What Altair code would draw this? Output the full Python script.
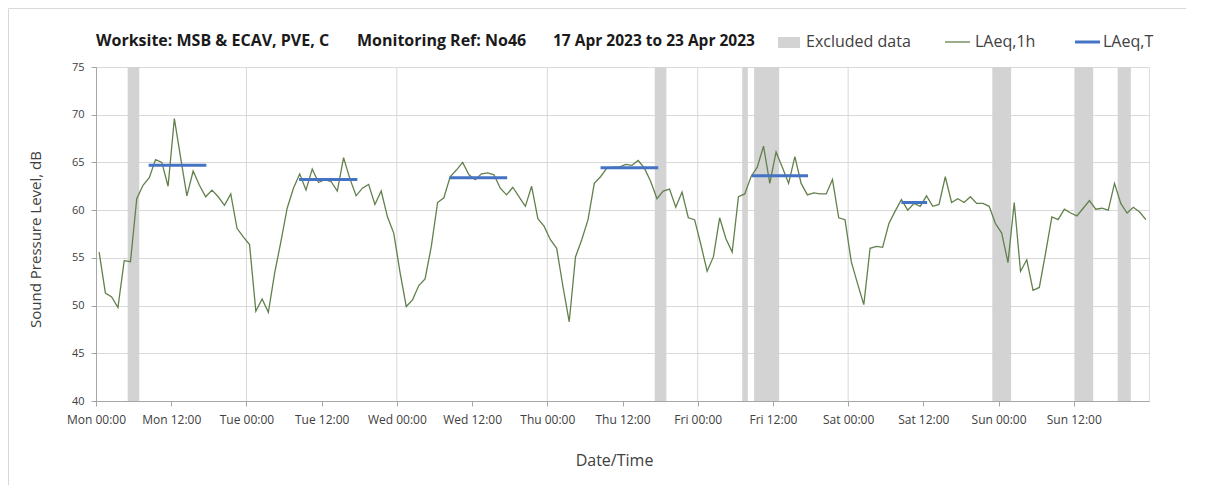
import altair as alt
import pandas as pd

# ---- data ----
laeq_1h = [
    55.6, 51.3, 50.9, 49.8, 54.7, 54.6, 61.2, 62.6, 63.4, 65.3, 65.0, 62.5,
    69.6, 65.5, 61.5, 64.1, 62.6, 61.4, 62.1, 61.4, 60.5, 61.7, 58.1, 57.2,
    56.4, 49.4, 50.7, 49.3, 53.4, 56.7, 60.2, 62.3, 63.8, 62.1, 64.3, 62.9,
    63.2, 63.0, 62.0, 65.5, 63.3, 61.5, 62.3, 62.7, 60.6, 62.0, 59.3, 57.6,
    53.5, 49.9, 50.6, 52.1, 52.8, 56.2, 60.8, 61.3, 63.5, 64.2, 65.0, 63.7,
    63.2, 63.8, 63.9, 63.7, 62.3, 61.6, 62.4, 61.4, 60.4, 62.5, 59.1, 58.3,
    56.9, 56.0, 52.0, 48.3, 55.1, 56.9, 59.0, 62.8, 63.5, 64.4, 64.5, 64.5,
    64.8, 64.7, 65.2, 64.4, 63.0, 61.2, 62.0, 62.2, 60.3, 61.9, 59.2, 59.0,
    56.4, 53.6, 55.1, 59.2, 57.0, 55.6, 61.4, 61.7, 63.5, 64.5, 66.7, 62.8,
    66.1, 64.5, 62.8, 65.6, 62.8, 61.6, 61.8, 61.7, 61.7, 63.2, 59.2, 59.0,
    54.6, 52.3, 50.1, 56.0, 56.2, 56.1, 58.6, 59.9, 61.1, 60.0, 60.7, 60.4,
    61.5, 60.4, 60.6, 63.5, 60.8, 61.2, 60.8, 61.4, 60.7, 60.7, 60.4, 58.6,
    57.6, 54.5, 60.8, 53.6, 54.8, 51.6, 51.9, 55.5, 59.3, 59.0, 60.1, 59.7,
    59.4, 60.2, 61.0, 60.1, 60.2, 60.0, 62.8, 60.7, 59.7, 60.3, 59.8, 59.0,
]
hours = [i + 0.5 for i in range(len(laeq_1h))]

laeq_t_start = [8.4, 32.4, 56.4, 80.5, 104.6, 128.5]
laeq_t_end = [17.6, 41.7, 65.6, 89.7, 113.6, 132.6]
laeq_t_value = [64.7, 63.2, 63.4, 64.45, 63.6, 60.8]

excl_start = [5.05, 89.15, 103.1, 105.0, 143.0, 156.1, 163.0]
excl_end = [6.9, 91.0, 104.0, 109.0, 146.0, 159.1, 165.1]

day_lines = [24, 48, 72, 96, 120, 144]
tick_hours = list(range(0, 157, 12))
day_names = ["Mon", "Tue", "Wed", "Thu", "Fri", "Sat", "Sun", "Mon"]

title_parts = ["Worksite: MSB & ECAV, PVE, C", "Monitoring Ref: No46", "17 Apr 2023 to 23 Apr 2023"]
legend_labels = ["Excluded data", "LAeq,1h", "LAeq,T"]

# ---- styles / layout ----
FONT = "Open Sans"
GREEN = "#62804c"
BLUE = "#4472c4"
GREY_BAND = "#d3d3d3"
TEXT = "#404040"
W, H = 1053, 334

line_df = pd.DataFrame({"h": hours, "v": laeq_1h})
t_df = pd.DataFrame({"h0": laeq_t_start, "h1": laeq_t_end, "v": laeq_t_value})
ex_df = pd.DataFrame({"h0": excl_start, "h1": excl_end})
day_df = pd.DataFrame({"h": day_lines})
one = pd.DataFrame({"k": [0]})

xscale = alt.Scale(domain=[0, 168], nice=False, zero=False)
yscale = alt.Scale(domain=[40, 75], nice=False, zero=False)

day_js = "[" + ",".join("'%s'" % d for d in day_names) + "]"
label_expr = day_js + "[floor(datum.value/24)] + (datum.value % 24 == 0 ? ' 00:00' : ' 12:00')"

x_axis = alt.Axis(
    values=tick_hours, labelExpr=label_expr, grid=False, title="Date/Time",
    labelOverlap=False, labelFlush=False, labelBound=False,
    tickSize=5, tickColor="#a6a6a6", domainColor="#a6a6a6", labelColor=TEXT,
    labelFont=FONT, labelFontSize=12, labelPadding=8, titleFont=FONT,
    titleFontSize=16, titleFontWeight="normal", titleColor=TEXT,
    titleX=518, titleY=59, titleAnchor="start", titleAlign="center", titleBaseline="middle",
)
y_axis = alt.Axis(
    values=list(range(40, 76, 5)), grid=True, gridColor="#d9d9d9", title="Sound Pressure Level, dB",
    labelOverlap=False, labelFlush=False,
    tickSize=5, tickColor="#a6a6a6", domainColor="#a6a6a6", labelColor=TEXT,
    labelFont=FONT, labelFontSize=11, labelPadding=7, titleFont=FONT,
    titleFontSize=15, titleFontWeight="normal", titleColor=TEXT,
    titleX=-61, titleY=172, titleAnchor="start", titleAlign="center", titleBaseline="middle", titleAngle=-90,
)

base_y = alt.Y("v:Q", scale=yscale, axis=y_axis)

# light outer frame (only its top and left edges fall inside the picture)
frame_top = alt.Chart(one).mark_rule(color="#d9d9d9", strokeWidth=1).encode(
    x=alt.value(-87.5), x2=alt.value(1090), y=alt.value(-58.5)
)
frame_left = alt.Chart(one).mark_rule(color="#d9d9d9", strokeWidth=1).encode(
    x=alt.value(-87.5), y=alt.value(-58.5), y2=alt.value(430)
)

day_rules = alt.Chart(day_df).mark_rule(color="#d9d9d9", strokeWidth=1).encode(
    x=alt.X("h:Q", scale=xscale, axis=x_axis)
)

bands = alt.Chart(ex_df).mark_rect(color=GREY_BAND).encode(
    x=alt.X("h0:Q", scale=xscale), x2="h1:Q",
    y=alt.value(0), y2=alt.value(H),
)

line = alt.Chart(line_df).mark_line(color=GREEN, strokeWidth=1.3).encode(
    x=alt.X("h:Q", scale=xscale), y=base_y
)

t_rules = alt.Chart(t_df).mark_rule(color=BLUE, strokeWidth=3).encode(
    x=alt.X("h0:Q", scale=xscale), x2="h1:Q", y=alt.Y("v:Q", scale=yscale)
)

def txt(s, x, y, size=16, weight="normal", align="left"):
    return alt.Chart(one).mark_text(
        text=s, font=FONT, fontSize=size, fontWeight=weight, color="#1a1a1a" if weight == "bold" else TEXT,
        align=align, baseline="middle",
    ).encode(x=alt.value(x), y=alt.value(y))

title_marks = [
    txt(title_parts[0], 0, -26, 16, "bold"),
    txt(title_parts[1], 261, -26, 16, "bold"),
    txt(title_parts[2], 457, -26, 15.5, "bold"),
]

legend_marks = [
    alt.Chart(one).mark_rect(color=GREY_BAND).encode(
        x=alt.value(682), x2=alt.value(704), y=alt.value(-30), y2=alt.value(-19)),
    txt(legend_labels[0], 710, -25),
    alt.Chart(one).mark_rule(color=GREEN, strokeWidth=1.3).encode(
        x=alt.value(849), x2=alt.value(874), y=alt.value(-25)),
    txt(legend_labels[1], 879, -25),
    alt.Chart(one).mark_rule(color=BLUE, strokeWidth=3).encode(
        x=alt.value(979), x2=alt.value(1004), y=alt.value(-25)),
    txt(legend_labels[2], 1007, -25),
]

chart = alt.layer(day_rules, bands, line, t_rules, frame_top, frame_left, *title_marks, *legend_marks).properties(
    width=W, height=H,
    autosize=alt.AutoSizeParams(type="none"),
    padding={"left": 88, "top": 59, "right": 51, "bottom": 84},
).configure_view(stroke="#a6a6a6", strokeWidth=1).configure(background="white")

chart.save("out.html", embed_options={"renderer": "svg", "actions": False})
